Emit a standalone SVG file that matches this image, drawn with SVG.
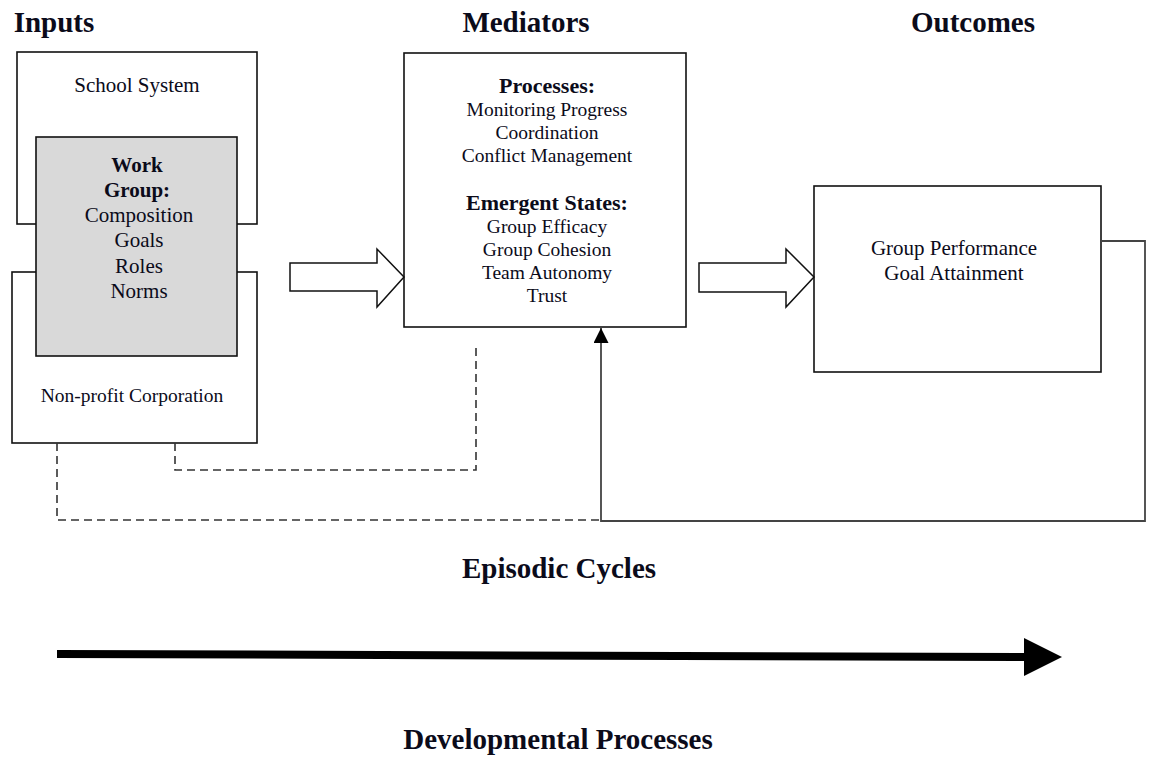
<svg xmlns="http://www.w3.org/2000/svg" width="1149" height="757" viewBox="0 0 1149 757">
  <style>
    .bg { fill: #ffffff; }
    .box { fill: #ffffff; stroke: #111; stroke-width: 1.6; }
    .shaded { fill: #d9d9d9; stroke: #111; stroke-width: 1.6; }
    .txt { font-family: "Liberation Serif", "Times New Roman", serif; fill: #0b0b1a; text-anchor: middle; }
    .head { font-size: 29px; font-weight: bold; }
    .lbl { font-size: 21px; }
    .med { font-size: 19.5px; }
    .sub { font-size: 22px; font-weight: bold; }
    .b { font-weight: bold; }
    .hollow { fill: #ffffff; stroke: #111; stroke-width: 1.5; stroke-linejoin: miter; }
    .dash { fill: none; stroke: #333; stroke-width: 1.6; stroke-dasharray: 8 5; }
    .loop { fill: none; stroke: #444; stroke-width: 1.8; }
  </style>
  <defs>
    <marker id="tri" viewBox="0 0 10 10" refX="10" refY="5" markerWidth="15" markerHeight="15" markerUnits="userSpaceOnUse" orient="auto">
      <path d="M0,0 L10,5 L0,10 z" fill="#000"/>
    </marker>
  </defs>

  <rect class="bg" x="0" y="0" width="1149" height="757"/>

  <!-- column headings -->
  <text class="txt head" x="54" y="32">Inputs</text>
  <text class="txt head" x="526" y="32">Mediators</text>
  <text class="txt head" x="973" y="32">Outcomes</text>

  <!-- Inputs: nested context boxes -->
  <g id="school-system">
    <rect class="box" x="17" y="52" width="240" height="172"/>
    <text class="txt lbl" x="137" y="92">School System</text>
  </g>
  <g id="nonprofit-corporation">
    <rect class="box" x="12" y="272" width="245" height="171"/>
    <text class="txt lbl" x="132" y="402" style="font-size:19.5px">Non-profit Corporation</text>
  </g>
  <g id="work-group">
    <rect class="shaded" x="36" y="137" width="201" height="219"/>
    <text class="txt lbl b" x="137" y="172">Work</text>
    <text class="txt lbl b" x="137" y="197">Group:</text>
    <text class="txt lbl" x="139" y="222">Composition</text>
    <text class="txt lbl" x="139" y="247">Goals</text>
    <text class="txt lbl" x="139" y="273">Roles</text>
    <text class="txt lbl" x="139" y="298">Norms</text>
  </g>

  <!-- Mediators -->
  <g id="mediators">
    <rect class="box" x="404" y="53" width="282" height="274"/>
    <text class="txt sub" x="547" y="93">Processes:</text>
    <text class="txt med" x="547" y="116">Monitoring Progress</text>
    <text class="txt med" x="547" y="139">Coordination</text>
    <text class="txt med" x="547" y="162">Conflict Management</text>
    <text class="txt sub" x="547" y="210">Emergent States:</text>
    <text class="txt med" x="547" y="233">Group Efficacy</text>
    <text class="txt med" x="547" y="256">Group Cohesion</text>
    <text class="txt med" x="547" y="279">Team Autonomy</text>
    <text class="txt med" x="547" y="302">Trust</text>
  </g>

  <!-- Outcomes -->
  <g id="outcomes">
    <rect class="box" x="814" y="186" width="287" height="186"/>
    <text class="txt lbl" x="954" y="255">Group Performance</text>
    <text class="txt lbl" x="954" y="280">Goal Attainment</text>
  </g>

  <!-- connectors -->
  <g id="connectors">
    <!-- block arrows between stages -->
    <path class="hollow" d="M290,263 H377 V249 L404,277 L377,307 V291 H290 Z"/>
    <path class="hollow" d="M699,263 H786 V249 L814,277 L786,307 V292 H699 Z"/>

    <!-- dashed links from the input contexts -->
    <path class="dash" d="M175,443 V470 H476 V343"/>
    <path class="dash" d="M57,443 V520 H601"/>

    <!-- feedback loop from outcomes back to mediators -->
    <path class="loop" d="M1101,241 H1145 V521 H601 V328" marker-end="url(#tri)"/>

    <!-- developmental time arrow -->
    <polygon fill="#000" points="57,650 1024,653 1024,638 1062,657 1024,676 1024,661 57,658"/>
  </g>

  <!-- lower captions -->
  <text class="txt head" x="559" y="578">Episodic Cycles</text>
  <text class="txt head" x="558" y="749">Developmental Processes</text>
</svg>
